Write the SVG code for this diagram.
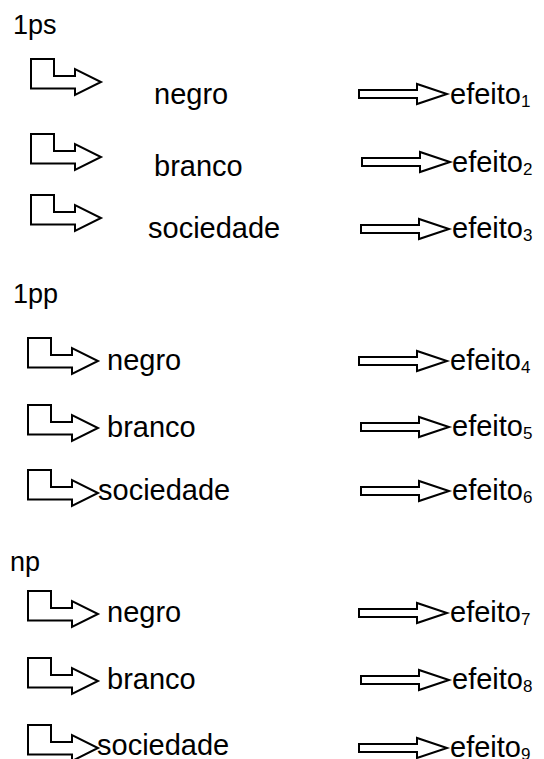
<svg xmlns="http://www.w3.org/2000/svg" width="544" height="759" viewBox="0 0 544 759">
<style>
text{font-family:"Liberation Sans",Arial,Helvetica,sans-serif;fill:#000}
.h{font-size:27px}
.t{font-size:29px}
.s{font-size:17px}
.ba,.ra{fill:#fff;stroke:#000;stroke-width:2;stroke-linejoin:miter}
</style>
<defs>
<path id="bent" d="M0,0 H23 V17 H44 V10 L70,23 L44,36 V29.5 H0 Z"/>
<path id="right" d="M-88,-4 H-30 V-10 L0,0 L-30,10 V4 H-88 Z"/>
</defs>
<rect width="544" height="759" fill="#fff"/>

<g id="section-1ps">
<text class="h" x="13" y="34">1ps</text>
</g>
<g id="section-1pp">
<text class="h" x="13" y="303">1pp</text>
</g>
<g id="section-np">
<text class="h" x="10" y="571">np</text>
</g>

<g id="connectors">
<use href="#bent" class="ba" x="31" y="59"/>
<use href="#bent" class="ba" x="31" y="134"/>
<use href="#bent" class="ba" x="31" y="195"/>
<use href="#bent" class="ba" x="28" y="338"/>
<use href="#bent" class="ba" x="28" y="405"/>
<use href="#bent" class="ba" x="28" y="470"/>
<use href="#bent" class="ba" x="28" y="591"/>
<use href="#bent" class="ba" x="28" y="658"/>
<use href="#bent" class="ba" x="28" y="725"/>
<use href="#right" class="ra" x="447" y="94"/>
<use href="#right" class="ra" x="450" y="162"/>
<use href="#right" class="ra" x="449" y="229"/>
<use href="#right" class="ra" x="447" y="361"/>
<use href="#right" class="ra" x="449" y="427"/>
<use href="#right" class="ra" x="449" y="491"/>
<use href="#right" class="ra" x="447" y="613"/>
<use href="#right" class="ra" x="449" y="680"/>
<use href="#right" class="ra" x="447" y="748"/>
</g>

<g id="n-1ps-negro"><text class="t" x="154" y="104">negro</text></g>
<g id="n-1ps-branco"><text class="t" x="154" y="176">branco</text></g>
<g id="n-1ps-sociedade"><text class="t" x="148" y="238">sociedade</text></g>
<g id="n-1pp-negro"><text class="t" x="107" y="370">negro</text></g>
<g id="n-1pp-branco"><text class="t" x="107" y="437">branco</text></g>
<g id="n-1pp-sociedade"><text class="t" x="98" y="500">sociedade</text></g>
<g id="n-np-negro"><text class="t" x="107" y="622">negro</text></g>
<g id="n-np-branco"><text class="t" x="107" y="689">branco</text></g>
<g id="n-np-sociedade"><text class="t" x="97" y="755">sociedade</text></g>

<g id="e1"><text class="t" x="450" y="104">efeito<tspan class="s" dy="3">1</tspan></text></g>
<g id="e2"><text class="t" x="452" y="172">efeito<tspan class="s" dy="3">2</tspan></text></g>
<g id="e3"><text class="t" x="452" y="238">efeito<tspan class="s" dy="3">3</tspan></text></g>
<g id="e4"><text class="t" x="450" y="370">efeito<tspan class="s" dy="3">4</tspan></text></g>
<g id="e5"><text class="t" x="452" y="436">efeito<tspan class="s" dy="3">5</tspan></text></g>
<g id="e6"><text class="t" x="452" y="500">efeito<tspan class="s" dy="3">6</tspan></text></g>
<g id="e7"><text class="t" x="450" y="622">efeito<tspan class="s" dy="3">7</tspan></text></g>
<g id="e8"><text class="t" x="452" y="689">efeito<tspan class="s" dy="3">8</tspan></text></g>
<g id="e9"><text class="t" x="450" y="757">efeito<tspan class="s" dy="3">9</tspan></text></g>
</svg>
